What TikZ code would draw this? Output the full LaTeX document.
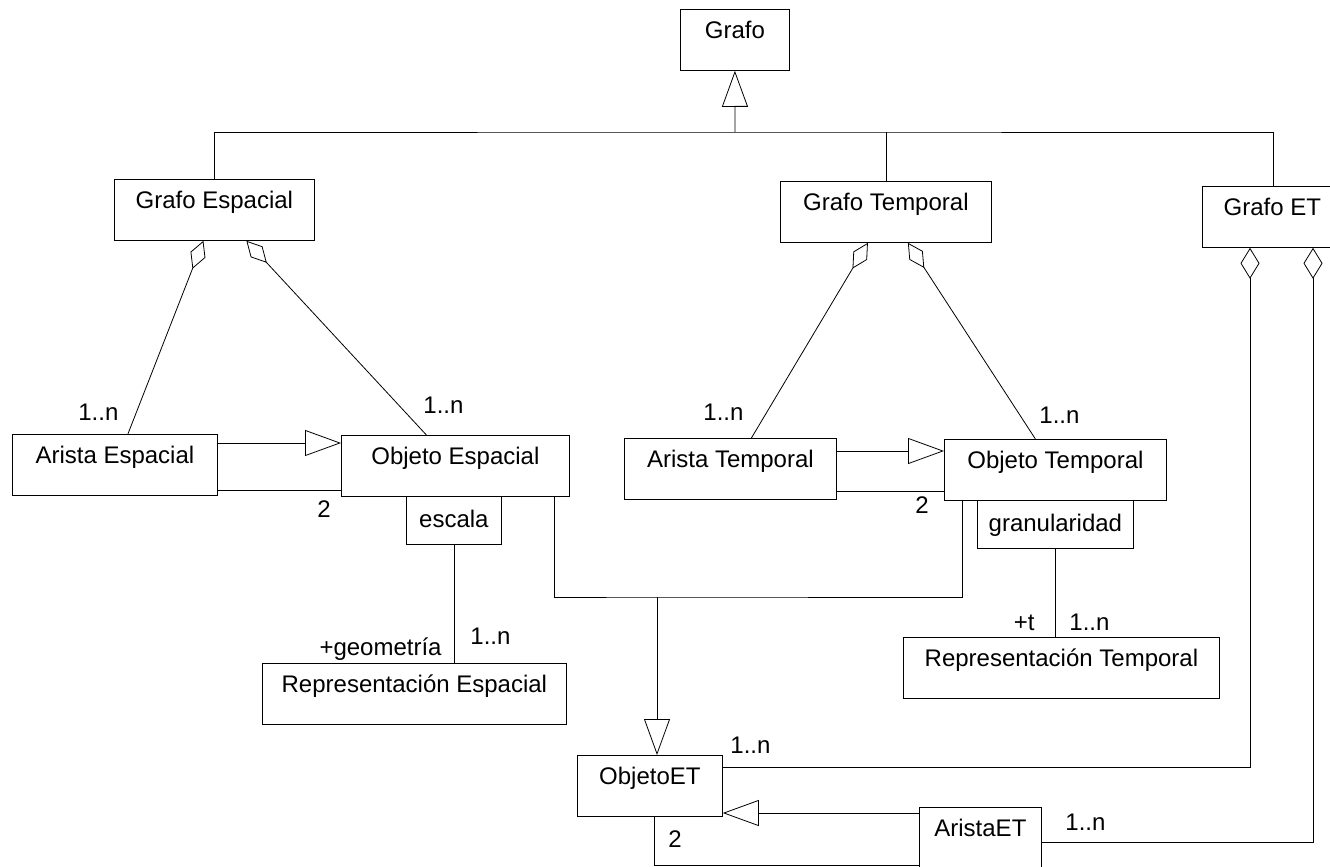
\documentclass[tikz,border=0pt]{standalone}
\usepackage{fontspec}
\setmainfont{Liberation Sans}
\usetikzlibrary{arrows.meta, calc}

\begin{document}
\begin{tikzpicture}[x=1pt, y=-1pt, line width=0.8pt,
        font=\fontsize{24}{28}\selectfont,
        clase/.style={draw, rectangle, anchor=north west, inner sep=0pt, text height=29pt, text depth=32pt},
        atributo/.style={draw, rectangle, anchor=north west, inner sep=0pt, text height=31pt, text depth=17pt},
        mult/.style={inner sep=0pt, anchor=base west},
        gen/.style={-{Triangle[open, length=36pt, width=26pt]}},
        agg/.style={{Diamond[open, length=30pt, width=16pt]}-},
        aggv/.style={{Diamond[open, length=31pt, width=19pt]}-}]
    \useasboundingbox (0,0) rectangle (1330,867);

    % clases
    \node[clase, minimum width=109pt] (Grafo) at (680,9) {Grafo};
    \node[clase, minimum width=200pt] (GEsp) at (114,179) {Grafo Espacial};
    \node[clase, minimum width=211pt] (GTemp) at (780,181) {Grafo Temporal};
    \node[clase, minimum width=140pt] (GET) at (1202,186) {Grafo ET};
    \node[clase, minimum width=205pt] (AEsp) at (12,434) {Arista Espacial};
    \node[clase, minimum width=228pt] (OEsp) at (341,435) {Objeto Espacial};
    \node[atributo, minimum width=95pt] (escala) at (406,496) {escala};
    \node[clase, minimum width=304pt] (REsp) at (262,663) {Representación Espacial};
    \node[clase, minimum width=212pt] (ATemp) at (624,438) {Arista Temporal};
    \node[clase, minimum width=222pt] (OTemp) at (944,439) {Objeto Temporal};
    \node[atributo, minimum width=156pt] (gran) at (977,500) {granularidad};
    \node[clase, minimum width=316pt] (RTemp) at (903,637) {Representación Temporal};
    \node[clase, minimum width=145pt] (OET) at (577,755) {ObjetoET};
    \node[clase, minimum width=122pt] (AET) at (919,807) {AristaET};

    % herencia de Grafo
    \coordinate (bus) at (735,132);
    \draw[gen] (bus) -- (Grafo.south);
    \draw (GEsp.north) |- (bus) -| ([xshift=71pt]GET.north west);
    \draw (GTemp.north) -- (GTemp.north |- bus);

    % agregaciones
    \draw[agg] ([xshift=-11pt]GEsp.south) -- ([xshift=13pt]AEsp.north);
    \draw[agg] ([xshift=32pt]GEsp.south) -- ([xshift=-29pt]OEsp.north);
    \draw[agg] ([xshift=-18pt]GTemp.south) -- ([xshift=21pt]ATemp.north);
    \draw[agg] ([xshift=22pt]GTemp.south) -- ([xshift=-20pt]OTemp.north);
    \draw[aggv] ([xshift=48pt]GET.south west) |- ([yshift=-12pt]OET.north east);
    \draw[aggv] ([xshift=111pt]GET.south west) |- ([yshift=-35pt]AET.north east);

    % aristas espaciales y temporales
    \coordinate (e1) at ([yshift=-9pt]AEsp.north east);
    \coordinate (e2) at ([yshift=5pt]AEsp.south east);
    \draw[gen] (e1) -- (e1 -| OEsp.west);
    \draw (e2) -- (e2 -| OEsp.west);
    \coordinate (e3) at ([yshift=-13pt]ATemp.north east);
    \coordinate (e4) at ([yshift=8pt]ATemp.south east);
    \draw[gen] (e3) -- (e3 -| OTemp.west);
    \draw (e4) -- (e4 -| OTemp.west);

    % representaciones
    \draw (escala.south) -- (escala.south |- REsp.north);
    \draw (gran.south) -- (gran.south |- RTemp.north);

    % ObjetoET hereda de ambos
    \coordinate (jn) at (657,597);
    \draw ([xshift=-15pt]OEsp.south east) |- (jn) -| ([xshift=18pt]OTemp.south west);
    \draw[gen] (jn) -- (jn |- OET.north);

    % AristaET
    \coordinate (e5) at ([yshift=-6pt]AET.north west);
    \draw[gen] (e5) -- (e5 -| OET.east);
    \draw ([xshift=77pt]OET.south west) |- ([yshift=3pt]AET.south west);

    % multiplicidades
    \node[mult] (mAEsp) at (78,420) {1..n};
    \node[mult] (mOEsp) at (423,413) {1..n};
    \node[mult] (dEsp) at (317,517) {2};
    \node[mult, anchor=base east] (rolGeo) at (442,655) {+geometría};
    \node[mult] (mREsp) at (470,644) {1..n};
    \node[mult] (mATemp) at (703,420) {1..n};
    \node[mult] (mOTemp) at (1039,423) {1..n};
    \node[mult] (dTemp) at (915,513) {2};
    \node[mult, anchor=base east] (rolT) at (1035,630) {+t};
    \node[mult] (mRTemp) at (1069,630) {1..n};
    \node[mult] (mOET) at (730,753) {1..n};
    \node[mult] (mAET) at (1065,830) {1..n};
    \node[mult] (dET) at (668,847) {2};
\end{tikzpicture}
\end{document}
